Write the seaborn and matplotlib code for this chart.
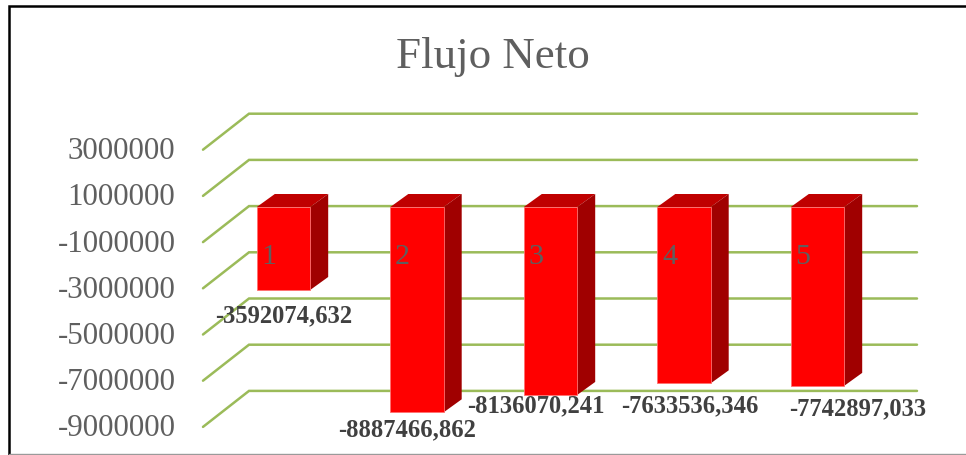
import seaborn as sns
import matplotlib.pyplot as plt
import numpy as np
import pandas as pd
from matplotlib.patches import Rectangle
from matplotlib.transforms import ScaledTranslation


# Datos

categorias = ["1", "2", "3", "4", "5"]
flujo = [-3592074.632, -8887466.862, -8136070.241, -7633536.346, -7742897.033]
etiquetas = ["-3592074,632", "-8887466,862", "-8136070,241", "-7633536,346", "-7742897,033"]
ticks = [3000000, 1000000, -1000000, -3000000, -5000000, -7000000, -9000000]


# Estilo

sns.set_theme(style="white")
plt.rcParams["font.family"] = ["Liberation Serif", "DejaVu Serif"]

GRIS = "#5f5f5f"
VERDE = "#9BBB59"
PX = 0.72  # pixel -> punto a dpi 100

fig = plt.figure(figsize=(9.66, 4.56), dpi=100)
ax = fig.add_axes([0, 0, 1, 1])

df = pd.DataFrame({"Periodo": categorias, "Flujo": flujo})
sns.barplot(x="Periodo", y="Flujo", data=df, color="#FF0000", saturation=1, width=0.4, ax=ax, zorder=3,
            edgecolor="#FF7070", linewidth=0.6)

# Escala: cada categoria 133.5 px, cada millon 23.1 px, cero en y=208
ax.set_xlim(-283.5 / 133.5, (966 - 283.5) / 133.5)
ax.set_ylim(-(456 - 208) / 23.1 * 1e6, 208 / 23.1 * 1e6)
ax.axis("off")


def desplazado(dx, dy):
    # desplazamiento en pixeles de pantalla (y hacia arriba)
    return ax.transData + ScaledTranslation(dx / 100, dy / 100, fig.dpi_scale_trans)


# Rejilla con perspectiva
x_izq = ax.get_xlim()[0] + 203 / 133.5
x_fondo = ax.get_xlim()[0] + 249 / 133.5
x_der = ax.get_xlim()[0] + 917 / 133.5

for t in ticks:
    # frente: 12 px bajo el plano de las barras, fondo: 24 px sobre el plano
    y_frente = t - 12 / 23.1 * 1e6
    y_fondo = t + 24 / 23.1 * 1e6
    ax.plot([x_izq, x_fondo, x_der], [y_frente, y_fondo, y_fondo], color=VERDE, lw=1.8, zorder=1,
            solid_joinstyle="miter")
    ax.text(x_izq - 27.5 / 133.5, y_frente - 1 / 23.1 * 1e6, str(t), ha="right", va="center", color=GRIS,
            fontsize=31 * PX)

# Caras superior y lateral de cada barra
dx_px, dy_px = 18, 13
dx = dx_px / 133.5
dy = dy_px / 23.1 * 1e6

for barra in list(ax.patches):
    x0 = barra.get_x()
    x1 = x0 + barra.get_width()
    y0 = barra.get_y()
    y1 = y0 + barra.get_height()
    techo = max(y0, y1)
    fondo = min(y0, y1)
    ax.fill([x0, x1, x1 + dx, x0 + dx], [techo, techo, techo + dy, techo + dy], color="#BF0000", lw=0, zorder=2)
    ax.fill([x1, x1 + dx, x1 + dx, x1], [fondo, fondo + dy, techo + dy, techo], color="#A00000", lw=0, zorder=2)

# Numero de categoria dentro de la barra
for i, c in enumerate(categorias):
    ax.text(i - 14.5 / 133.5, -2110000, c, ha="center", va="center", color=GRIS, fontsize=30 * PX, zorder=4)

# Etiquetas de datos, desplazadas a mano como en el original
desp_x = [0, -9.5, -15, 6, 40.5]
desp_y = [25, 17, 10, 21, 22]

for i, (v, e) in enumerate(zip(flujo, etiquetas)):
    ax.text(i, v, e, transform=desplazado(desp_x[i], -desp_y[i]), ha="center", va="center",
            color="#404040", fontsize=24.6 * PX, fontweight="bold", zorder=5)

ax.text(0.51, 0.876, "Flujo Neto", transform=ax.transAxes, ha="center", va="center", color=GRIS, fontsize=45 * PX)

# Marco del grafico
ax.add_patch(Rectangle((9 / 966, -0.01), 1.1, 1.01 - 6.5 / 456, transform=ax.transAxes, fill=False,
                       edgecolor="black", lw=1.8, clip_on=True, zorder=6))
ax.axhline(ax.get_ylim()[0] + 1 / 23.1 * 1e6, xmin=9 / 966, color="#9a9a9a", lw=1, zorder=6)

fig.savefig("out.png", dpi=100)
